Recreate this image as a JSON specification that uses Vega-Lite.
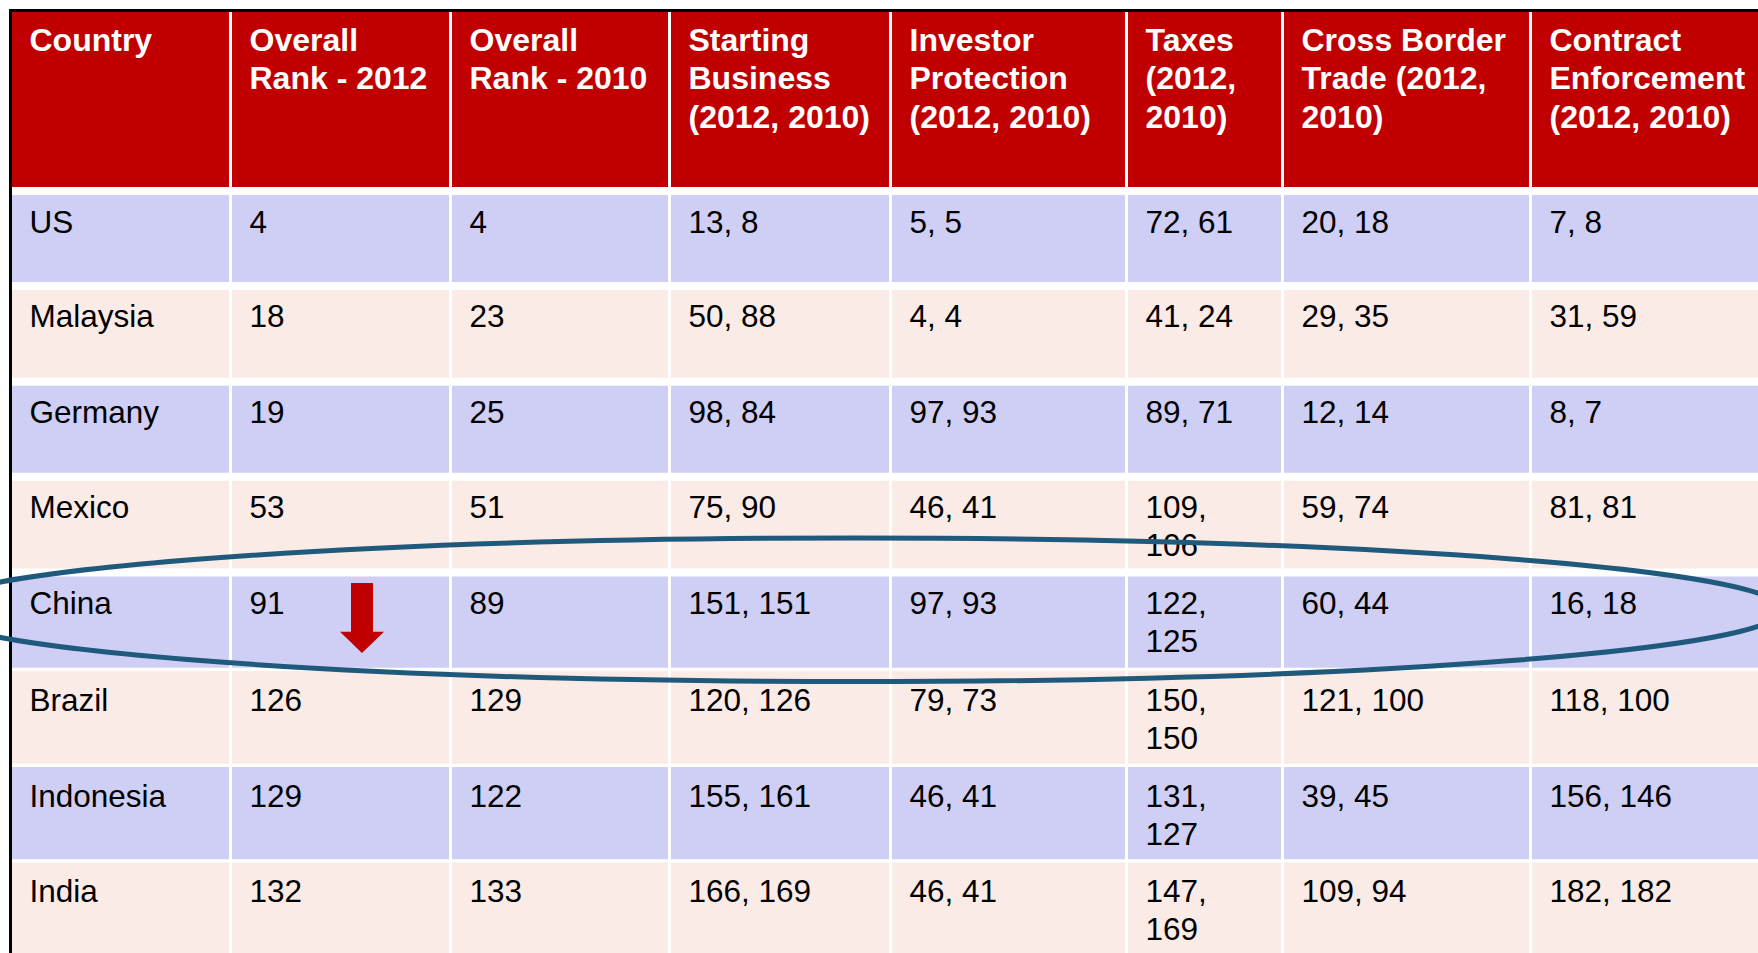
{
  "$schema": "https://vega.github.io/schema/vega-lite/v6.json",
  "width": 1758,
  "height": 953,
  "padding": 0,
  "autosize": {"type": "none"},
  "background": "white",
  "config": {"view": {"stroke": null}},
  "datasets": {
    "cells": [
      {"row": 0, "col": 0, "label": "Country"},
      {"row": 0, "col": 1, "label": "Overall\nRank - 2012"},
      {"row": 0, "col": 2, "label": "Overall\nRank - 2010"},
      {"row": 0, "col": 3, "label": "Starting\nBusiness\n(2012, 2010)"},
      {"row": 0, "col": 4, "label": "Investor\nProtection\n(2012, 2010)"},
      {"row": 0, "col": 5, "label": "Taxes\n(2012,\n2010)"},
      {"row": 0, "col": 6, "label": "Cross Border\nTrade (2012,\n2010)"},
      {"row": 0, "col": 7, "label": "Contract\nEnforcement\n(2012, 2010)"},
      {"row": 1, "col": 0, "label": "US"},
      {"row": 1, "col": 1, "label": "4"},
      {"row": 1, "col": 2, "label": "4"},
      {"row": 1, "col": 3, "label": "13, 8"},
      {"row": 1, "col": 4, "label": "5, 5"},
      {"row": 1, "col": 5, "label": "72, 61"},
      {"row": 1, "col": 6, "label": "20, 18"},
      {"row": 1, "col": 7, "label": "7, 8"},
      {"row": 2, "col": 0, "label": "Malaysia"},
      {"row": 2, "col": 1, "label": "18"},
      {"row": 2, "col": 2, "label": "23"},
      {"row": 2, "col": 3, "label": "50, 88"},
      {"row": 2, "col": 4, "label": "4, 4"},
      {"row": 2, "col": 5, "label": "41, 24"},
      {"row": 2, "col": 6, "label": "29, 35"},
      {"row": 2, "col": 7, "label": "31, 59"},
      {"row": 3, "col": 0, "label": "Germany"},
      {"row": 3, "col": 1, "label": "19"},
      {"row": 3, "col": 2, "label": "25"},
      {"row": 3, "col": 3, "label": "98, 84"},
      {"row": 3, "col": 4, "label": "97, 93"},
      {"row": 3, "col": 5, "label": "89, 71"},
      {"row": 3, "col": 6, "label": "12, 14"},
      {"row": 3, "col": 7, "label": "8, 7"},
      {"row": 4, "col": 0, "label": "Mexico"},
      {"row": 4, "col": 1, "label": "53"},
      {"row": 4, "col": 2, "label": "51"},
      {"row": 4, "col": 3, "label": "75, 90"},
      {"row": 4, "col": 4, "label": "46, 41"},
      {"row": 4, "col": 5, "label": "109,\n106"},
      {"row": 4, "col": 6, "label": "59, 74"},
      {"row": 4, "col": 7, "label": "81, 81"},
      {"row": 5, "col": 0, "label": "China"},
      {"row": 5, "col": 1, "label": "91"},
      {"row": 5, "col": 2, "label": "89"},
      {"row": 5, "col": 3, "label": "151, 151"},
      {"row": 5, "col": 4, "label": "97, 93"},
      {"row": 5, "col": 5, "label": "122,\n125"},
      {"row": 5, "col": 6, "label": "60, 44"},
      {"row": 5, "col": 7, "label": "16, 18"},
      {"row": 6, "col": 0, "label": "Brazil"},
      {"row": 6, "col": 1, "label": "126"},
      {"row": 6, "col": 2, "label": "129"},
      {"row": 6, "col": 3, "label": "120, 126"},
      {"row": 6, "col": 4, "label": "79, 73"},
      {"row": 6, "col": 5, "label": "150,\n150"},
      {"row": 6, "col": 6, "label": "121, 100"},
      {"row": 6, "col": 7, "label": "118, 100"},
      {"row": 7, "col": 0, "label": "Indonesia"},
      {"row": 7, "col": 1, "label": "129"},
      {"row": 7, "col": 2, "label": "122"},
      {"row": 7, "col": 3, "label": "155, 161"},
      {"row": 7, "col": 4, "label": "46, 41"},
      {"row": 7, "col": 5, "label": "131,\n127"},
      {"row": 7, "col": 6, "label": "39, 45"},
      {"row": 7, "col": 7, "label": "156, 146"},
      {"row": 8, "col": 0, "label": "India"},
      {"row": 8, "col": 1, "label": "132"},
      {"row": 8, "col": 2, "label": "133"},
      {"row": 8, "col": 3, "label": "166, 169"},
      {"row": 8, "col": 4, "label": "46, 41"},
      {"row": 8, "col": 5, "label": "147,\n169"},
      {"row": 8, "col": 6, "label": "109, 94"},
      {"row": 8, "col": 7, "label": "182, 182"}
    ]
  },
  "layer": [
    {
      "data": {"name": "cells"},
      "transform": [{"filter": "datum.col == 0"}],
      "mark": {"type": "rect"},
      "encoding": {
        "y": {"field": "row", "type": "quantitative", "bin": {"step": 1, "extent": [0, 9]},
              "scale": {"type": "linear", "domain": [0,1,2,3,4,5,6,7,8,9], "range": [10.5,191,285.9,381.7,476.7,572.5,669.4,765.3,860.8,956.5], "zero": false, "nice": false}, "axis": null},
        "x": {"datum": 0, "type": "quantitative",
              "scale": {"type": "linear", "domain": [0,1,2,3,4,5,6,7,8], "range": [10.5,230.5,450.5,669.5,890.5,1126.5,1282.5,1530.5,1790], "zero": false, "nice": false}, "axis": null},
        "x2": {"datum": 8},
        "color": {"field": "row", "type": "ordinal",
                  "scale": {"domain": [0,1,2,3,4,5,6,7,8], "range": ["#C00000","#CFCEF4","#FAEBE7","#CFCEF4","#FAEBE7","#CFCEF4","#FAEBE7","#CFCEF4","#FAEBE7"]},
                  "legend": null}
      }
    },
    {
      "data": {"name": "cells"},
      "transform": [{"filter": "datum.row == 0 && datum.col >= 1"}],
      "mark": {"type": "rule", "color": "white", "strokeWidth": 3},
      "encoding": {
        "x": {"field": "col", "type": "quantitative", "axis": null}
      }
    },
    {
      "data": {"name": "cells"},
      "transform": [{"filter": "datum.col == 0 && datum.row >= 1 && datum.row <= 5"}],
      "mark": {"type": "rule", "color": "white", "strokeWidth": 8},
      "encoding": {
        "y": {"field": "row", "type": "quantitative", "axis": null}
      }
    },
    {
      "data": {"name": "cells"},
      "transform": [{"filter": "datum.col == 0 && datum.row >= 6"}],
      "mark": {"type": "rule", "color": "white", "strokeWidth": 3.3},
      "encoding": {
        "y": {"field": "row", "type": "quantitative", "axis": null}
      }
    },
    {
      "data": {"name": "cells"},
      "transform": [{"filter": "datum.row == 0"}],
      "mark": {"type": "text", "align": "left", "baseline": "alphabetic", "dx": 19, "dy": 40,
               "font": "Liberation Sans", "fontSize": 32, "fontWeight": "bold", "color": "white",
               "lineBreak": "\n", "lineHeight": 38.5},
      "encoding": {
        "x": {"field": "col", "type": "quantitative", "axis": null},
        "y": {"field": "row", "type": "quantitative", "axis": null},
        "text": {"field": "label", "type": "nominal"}
      }
    },
    {
      "data": {"name": "cells"},
      "transform": [{"filter": "datum.row >= 1"}],
      "mark": {"type": "text", "align": "left", "baseline": "alphabetic", "dx": 19, "dy": 41.5,
               "font": "Liberation Sans", "fontSize": 31.5, "color": "black",
               "lineBreak": "\n", "lineHeight": 37.8},
      "encoding": {
        "x": {"field": "col", "type": "quantitative", "axis": null},
        "y": {"field": "row", "type": "quantitative", "axis": null},
        "text": {"field": "label", "type": "nominal"}
      }
    },
    {
      "data": {"values": [{}]},
      "mark": {"type": "rule", "color": "black", "strokeWidth": 3, "strokeCap": "square"},
      "encoding": {
        "x": {"datum": 0, "type": "quantitative"},
        "x2": {"datum": 8},
        "y": {"datum": 0, "type": "quantitative"}
      }
    },
    {
      "data": {"values": [{}]},
      "mark": {"type": "rule", "color": "black", "strokeWidth": 3, "strokeCap": "square"},
      "encoding": {
        "x": {"datum": 0, "type": "quantitative"},
        "y": {"datum": 0, "type": "quantitative"},
        "y2": {"datum": 9}
      }
    },
    {
      "data": {"values": [{}]},
      "mark": {"type": "point", "filled": true, "color": "#C00000", "opacity": 1, "size": 4900,
               "shape": "M -0.314 -1 L 0.314 -1 L 0.314 0.39 L 0.629 0.39 L 0 1 L -0.629 0.39 L -0.314 0.39 Z"},
      "encoding": {
        "x": {"datum": 1.5977, "type": "quantitative"},
        "y": {"datum": 5.4696, "type": "quantitative"}
      }
    },
    {
      "data": {"values": [{}]},
      "mark": {"type": "point", "filled": false, "color": "#1F5A7D", "opacity": 1, "strokeWidth": 5, "size": 3437316,
               "shape": "M -1 0 C -1 -0.04278 -0.5523 -0.07745 0 -0.07745 C 0.5523 -0.07745 1 -0.04278 1 0 C 1 0.04278 0.5523 0.07745 0 0.07745 C -0.5523 0.07745 -1 0.04278 -1 0 Z"},
      "encoding": {
        "x": {"datum": 3.8439, "type": "quantitative"},
        "y": {"datum": 5.385, "type": "quantitative"}
      }
    }
  ]
}
